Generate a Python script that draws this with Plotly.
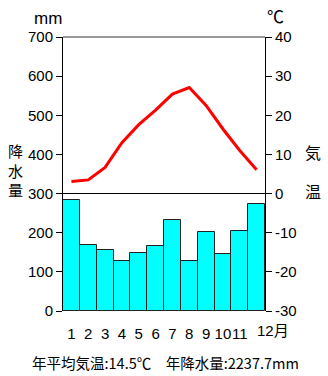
import plotly.graph_objects as go

months = list(range(1, 13))
month_labels = [str(m) for m in months]
precip_mm = [284.5, 169.5, 157.0, 127.5, 147.0, 167.0, 233.5, 127.5, 202.0, 145.0, 205.0, 272.2]
temp_c = [3.1, 3.5, 6.7, 13.0, 17.6, 21.3, 25.4, 27.1, 22.5, 16.5, 11.0, 6.1]
precip_ticks = [0, 100, 200, 300, 400, 500, 600, 700]
temp_ticks = [-30, -20, -10, 0, 10, 20, 30, 40]
summary = "年平均気温:14.5℃　年降水量:2237.7mm"

FONT = "Liberation Sans, Arial, Noto Sans CJK JP, sans-serif"
CJK = "Noto Sans CJK JP, Liberation Sans, sans-serif"

W, H = 328, 376
l, r, t, b = 63, 63, 37, 65
pw, ph = W - l - r, H - t - b

fig = go.Figure()
fig.add_trace(go.Bar(
    x=months, y=precip_mm, yaxis="y",
    marker=dict(color="#00FFFF", line=dict(color="#222222", width=1)),
    showlegend=False,
))
fig.add_trace(go.Scatter(
    x=months, y=temp_c, yaxis="y2", mode="lines",
    line=dict(color="#FF0000", width=3),
    showlegend=False,
))

fig.update_layout(
    width=W, height=H,
    margin=dict(l=l, r=r, t=t, b=b),
    paper_bgcolor="white", plot_bgcolor="white",
    bargap=0,
    font=dict(family=FONT, size=15, color="black"),
    xaxis=dict(
        range=[0.5, 12.5], tickmode="array",
        tickvals=months[:-1], ticktext=month_labels[:-1],
        tickangle=0,
        showgrid=False, showline=False, zeroline=False,
        ticks="outside", ticklen=9, tickcolor="rgba(0,0,0,0)",
        tickfont=dict(size=15),
    ),
    yaxis=dict(
        range=[0, 700], tickmode="array", tickvals=precip_ticks,
        ticktext=[str(v) for v in precip_ticks],
        showgrid=False, zeroline=False,
        showline=True, linecolor="black", linewidth=1,
        ticks="outside", ticklen=6, tickcolor="black",
        tickfont=dict(size=15),
    ),
    yaxis2=dict(
        range=[-30, 40], tickmode="array", tickvals=temp_ticks,
        ticktext=[str(v) for v in temp_ticks],
        overlaying="y", side="right",
        showgrid=False, zeroline=True, zerolinecolor="black", zerolinewidth=1,
        showline=True, linecolor="black", linewidth=1,
        ticks="outside", ticklen=6, tickcolor="black",
        tickfont=dict(size=15),
    ),
    shapes=[dict(type="line", xref="paper", yref="paper", x0=0, x1=1, y0=1, y1=1,
                 line=dict(color="#777777", width=1.5))],
)

ann = [
    dict(text="mm", x=48, y=18, font=dict(size=17, family=FONT)),
    dict(text="℃", x=275, y=16, font=dict(size=17, family=CJK)),
    dict(text="降<br>水<br>量", x=15, y=170, font=dict(size=15, family=CJK)),
    dict(text="気", x=313, y=152, font=dict(size=16, family=CJK)),
    dict(text="温", x=313, y=191, font=dict(size=16, family=CJK)),
    dict(text=summary, x=165, y=362, font=dict(size=14.5, family=CJK)),
]
for a in ann:
    fig.add_annotation(text=a["text"], xref="paper", yref="paper",
                       x=(a["x"] - l) / pw, y=(H - b - a["y"]) / ph,
                       xanchor="center", yanchor="middle", showarrow=False,
                       font=a["font"])
fig.add_annotation(text="12月", xref="x", yref="paper", x=months[-1],
                   y=(H - b - 330) / ph, xanchor="left", yanchor="middle",
                   xshift=-2, showarrow=False, font=dict(size=15, family=FONT))

fig.write_html("out.html")
